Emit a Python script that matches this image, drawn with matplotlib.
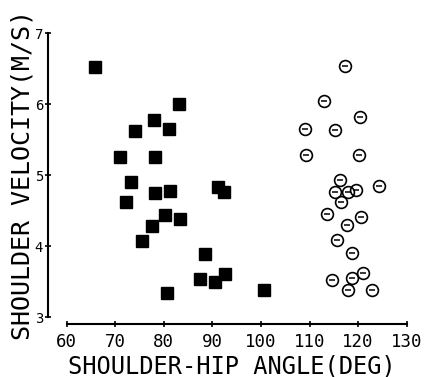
import numpy as np
import matplotlib
matplotlib.use('Agg')
import matplotlib.pyplot as plt

# filled squares
sq_angle = [65.8, 83.1, 78.0, 81.1, 74.1, 71.0, 78.2, 73.2, 72.2, 78.2, 81.3, 91.2,
            92.4, 80.2, 83.3, 77.5, 75.4, 88.5, 87.5, 90.5, 92.6, 80.6, 100.7]
sq_vel = [6.52, 6.01, 5.78, 5.65, 5.62, 5.26, 5.26, 4.91, 4.62, 4.75, 4.78, 4.84,
          4.76, 4.44, 4.39, 4.28, 4.07, 3.89, 3.54, 3.50, 3.61, 3.35, 3.38]

# open circles
ci_angle = [117.3, 113.0, 120.3, 109.1, 115.3, 109.3, 120.2, 116.3, 124.3, 115.3,
            118.0, 119.6, 116.5, 113.5, 120.6, 117.7, 115.6, 118.7, 120.9, 118.7,
            114.6, 117.9, 122.8]
ci_vel = [6.54, 6.04, 5.82, 5.65, 5.64, 5.29, 5.29, 4.93, 4.85, 4.77,
          4.76, 4.79, 4.63, 4.46, 4.42, 4.30, 4.09, 3.90, 3.63, 3.56,
          3.52, 3.38, 3.38]

xticks = [60, 70, 80, 90, 100, 110, 120, 130]
yticks = [3, 4, 5, 6, 7]

mono = 'DejaVu Sans Mono'

fig = plt.figure(figsize=(4.25, 3.77), dpi=100)
ax = fig.add_axes([0.157, 0.158, 0.80, 0.754])

ax.plot(sq_angle, sq_vel, 's', color='black', markersize=8, linestyle='none')
ax.plot(ci_angle, ci_vel, 'o', markerfacecolor='none', markeredgecolor='black',
        markeredgewidth=1.2, markersize=8.5, linestyle='none')
ax.plot(ci_angle, ci_vel, '_', color='black', markersize=4, markeredgewidth=1.1,
        linestyle='none')

ax.set_xlim(60, 130)
ax.set_ylim(3, 7)
ax.spines['top'].set_visible(False)
ax.spines['right'].set_visible(False)
ax.spines['left'].set_position(('outward', 13.5))
ax.spines['bottom'].set_position(('outward', 5))
ax.spines['left'].set_linewidth(1.5)
ax.spines['bottom'].set_linewidth(1.5)

ax.set_xticks(xticks)
ax.set_yticks(yticks)
ax.set_xticklabels([str(t) for t in xticks], fontfamily=mono, fontsize=12.5)
ax.set_yticklabels([str(t) for t in yticks], fontfamily=mono, fontsize=10)
ax.tick_params(axis='x', direction='inout', length=5, width=1.2, pad=4)
ax.tick_params(axis='y', direction='inout', length=5, width=1.2, pad=1)

ax.set_xlabel('SHOULDER-HIP ANGLE(DEG)', fontfamily=mono, fontsize=17)
ax.xaxis.set_label_coords(0.485, -0.13)
ax.set_ylabel('SHOULDER VELOCITY(M/S)', fontfamily=mono, fontsize=18, labelpad=0)

fig.savefig('out.png', dpi=100)
